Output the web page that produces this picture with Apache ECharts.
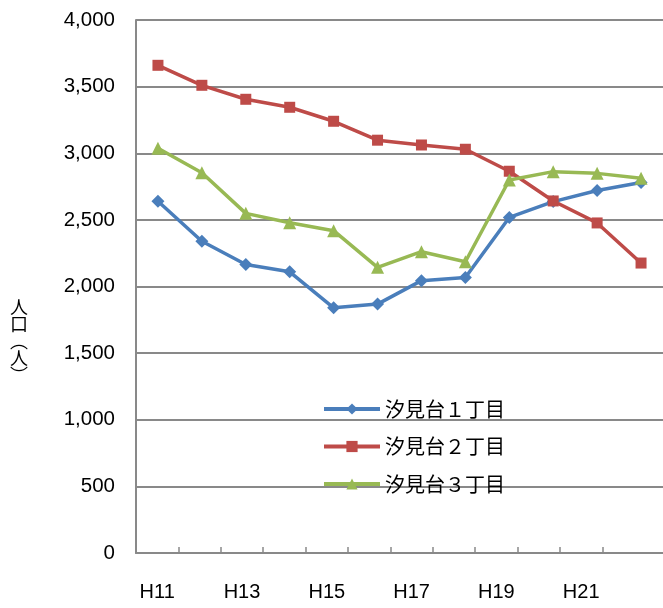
<!DOCTYPE html>
<html>
<head>
<meta charset="utf-8">
<script src="https://cdn.jsdelivr.net/npm/echarts@6/dist/echarts.min.js"></script>
<style>
html,body{margin:0;padding:0;background:#fff;}
#chart{width:663px;height:608px;}
</style>
</head>
<body>
<div id="chart"></div>
<script>
const categories = ['H11','H12','H13','H14','H15','H16','H17','H18','H19','H20','H21','H22'];
const seriesNames = ['汐見台１丁目','汐見台２丁目','汐見台３丁目'];
const chome1 = [2640, 2340, 2165, 2110, 1840, 1868, 2044, 2068, 2518, 2637, 2720, 2780];
const chome2 = [3660, 3510, 3405, 3345, 3240, 3098, 3062, 3030, 2865, 2642, 2477, 2176];
const chome3 = [3037, 2854, 2549, 2479, 2419, 2144, 2261, 2186, 2799, 2862, 2849, 2812];
const yTicks = [0, 500, 1000, 1500, 2000, 2500, 3000, 3500, 4000];
const yAxisTitle = '人\n口\n︵\n人\n︶';

const colors = ['#4a7ebb', '#be4b48', '#98b954'];
const gray = '#898989';
const latin = "'Liberation Sans', Arial, sans-serif";
const cjk = "'Noto Sans CJK JP', 'Noto Sans', sans-serif";

// label axis: every other category labelled, tick marks between categories
const labelIdx = categories.map((c, i) => i).filter(i => i % 2 === 0);
const tickIdx = categories.map((c, i) => i).filter(i => i > 0);

const chart = echarts.init(document.getElementById('chart'), null, {renderer: 'canvas'});
chart.setOption({
  animation: false,
  backgroundColor: '#fff',
  grid: {left: 136, right: 0, top: 20, bottom: 55, containLabel: false},
  xAxis: [
    {type: 'category', data: categories, boundaryGap: true, show: false},
    {
      type: 'value', position: 'bottom', min: 0, max: 12.43,
      axisLine: {show: true, lineStyle: {color: gray, width: 2}},
      axisTick: {show: true, inside: true, length: 6, lineStyle: {color: gray, width: 1.5},
        customValues: tickIdx},
      axisLabel: {
        customValues: labelIdx.map(i => i + 0.5),
        formatter: v => categories[Math.round(v - 0.5)],
        color: '#000', fontSize: 20, fontFamily: latin, margin: 29
      },
      splitLine: {show: false}
    }
  ],
  yAxis: {
    type: 'value', min: yTicks[0], max: yTicks[yTicks.length - 1], interval: 500,
    axisLine: {show: true, lineStyle: {color: gray, width: 2}},
    axisTick: {show: false},
    axisLabel: {
      color: '#000', fontSize: 20.5, fontFamily: latin, margin: 21,
      formatter: v => v.toLocaleString('en-US')
    },
    splitLine: {show: true, lineStyle: {color: gray, width: 2}}
  },
  legend: {
    orient: 'vertical', left: 317, top: 394,
    itemWidth: 56, itemHeight: 14, itemGap: 17.5,
    data: seriesNames,
    lineStyle: {width: 4},
    textStyle: {fontSize: 20, fontFamily: cjk, color: '#000', lineHeight: 20}
  },
  graphic: [{
    type: 'text', x: 19, y: 341,
    style: {text: yAxisTitle, font: "18px 'Noto Sans CJK JP'", fill: '#000',
      align: 'center', verticalAlign: 'middle', lineHeight: 17}
  }],
  series: [
    {name: seriesNames[0], type: 'line', data: chome1, xAxisIndex: 0, symbol: 'diamond', symbolSize: 13,
      lineStyle: {width: 3.5, color: colors[0]}, itemStyle: {color: colors[0]}},
    {name: seriesNames[1], type: 'line', data: chome2, xAxisIndex: 0, symbol: 'rect', symbolSize: 11,
      lineStyle: {width: 3.5, color: colors[1]}, itemStyle: {color: colors[1]}},
    {name: seriesNames[2], type: 'line', data: chome3, xAxisIndex: 0, symbol: 'triangle', symbolSize: 13,
      lineStyle: {width: 3.5, color: colors[2]}, itemStyle: {color: colors[2]}}
  ]
});
</script>
</body>
</html>
